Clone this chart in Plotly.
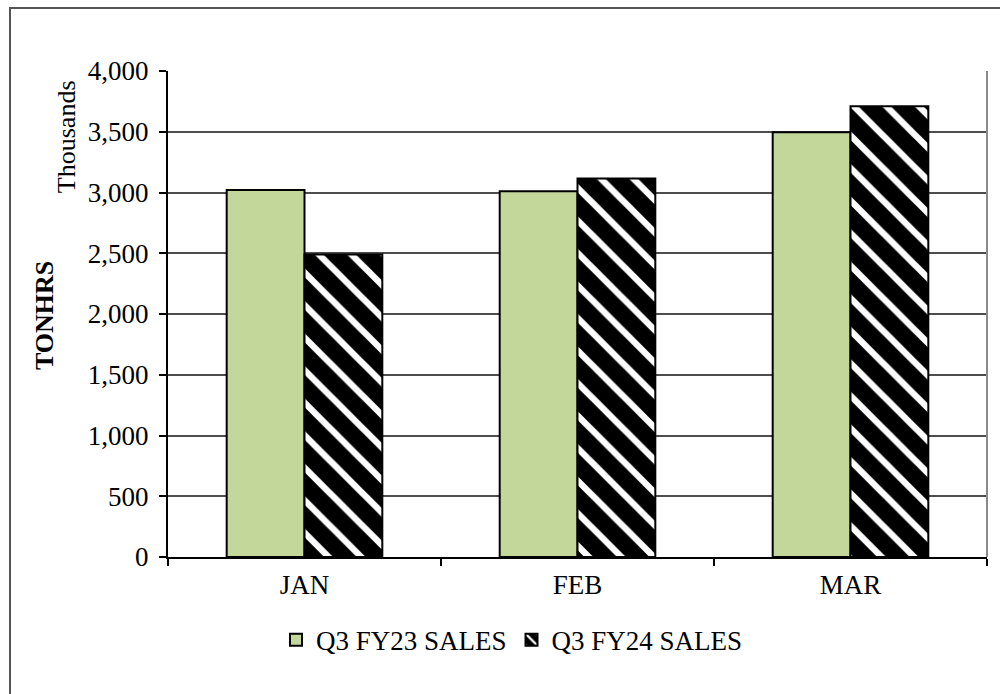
import plotly.graph_objects as go

# Monthly ton-hour sales, in thousands
months = ["JAN", "FEB", "MAR"]
fy23_sales = [3020, 3010, 3495]
fy24_sales = [2490, 3115, 3710]
series_names = ["Q3 FY23 SALES", "Q3 FY24 SALES"]

FONT = "Liberation Serif"

fig = go.Figure()
fig.add_trace(go.Bar(
    x=months, y=fy23_sales, name=series_names[0],
    marker=dict(color="#C4D79B", line=dict(color="black", width=2)),
))
fig.add_trace(go.Bar(
    x=months, y=fy24_sales, name=series_names[1],
    marker=dict(
        color="black",
        line=dict(color="black", width=2),
        pattern=dict(shape="\\", fgcolor="white", bgcolor="black",
                     size=23, solidity=0.28, fillmode="replace"),
    ),
))

fig.update_layout(
    width=1000, height=694,
    margin=dict(l=168, r=13, t=71, b=137),
    paper_bgcolor="white", plot_bgcolor="white",
    font=dict(family=FONT, size=27, color="black"),
    barmode="group", bargap=0.43, bargroupgap=0,
    showlegend=True,
    legend=dict(orientation="h", x=0.42, xanchor="center",
                y=-0.171, yanchor="middle",
                font=dict(family=FONT, size=27, color="black"),
                itemwidth=30, tracegroupgap=0),
    xaxis=dict(
        showline=True, linecolor="black", linewidth=2,
        ticks="outside", tickson="boundaries", ticklen=7,
        tickcolor="black", tickwidth=2, showgrid=False,
        range=[-0.5, 2.5], ticklabelstandoff=3,
        tickfont=dict(family=FONT, size=27, color="black"),
    ),
    yaxis=dict(
        range=[0, 4000], dtick=500, tickformat=",d",
        showline=True, linecolor="black", linewidth=2,
        ticks="outside", ticklen=7, tickcolor="black", tickwidth=2,
        showgrid=True, gridcolor="#4d4d4d", gridwidth=1.5,
        zeroline=False, ticklabelstandoff=5,
        tickfont=dict(family=FONT, size=27, color="black"),
    ),
    annotations=[
        dict(text="<b>TONHRS</b>", xref="paper", yref="paper",
             x=-0.150, y=0.496, textangle=-90, showarrow=False,
             xanchor="center", yanchor="middle",
             font=dict(family=FONT, size=26, color="black")),
        dict(text="Thousands", xref="paper", yref="paper",
             x=-0.1245, y=0.864, textangle=-90, showarrow=False,
             xanchor="center", yanchor="middle",
             font=dict(family=FONT, size=26, color="black")),
    ],
    shapes=[
        # plot area right edge
        dict(type="line", xref="paper", yref="paper",
             x0=1, x1=1, y0=0, y1=1,
             line=dict(color="#8a8a8a", width=2)),
        # chart frame
        dict(type="rect", xref="paper", yref="paper",
             x0=(10 - 168) / 819, x1=(1010 - 168) / 819,
             y0=(557 - 705) / 486, y1=(557 - 8) / 486,
             line=dict(color="#555555", width=2), layer="below"),
    ],
)

fig.write_html("out.html")
